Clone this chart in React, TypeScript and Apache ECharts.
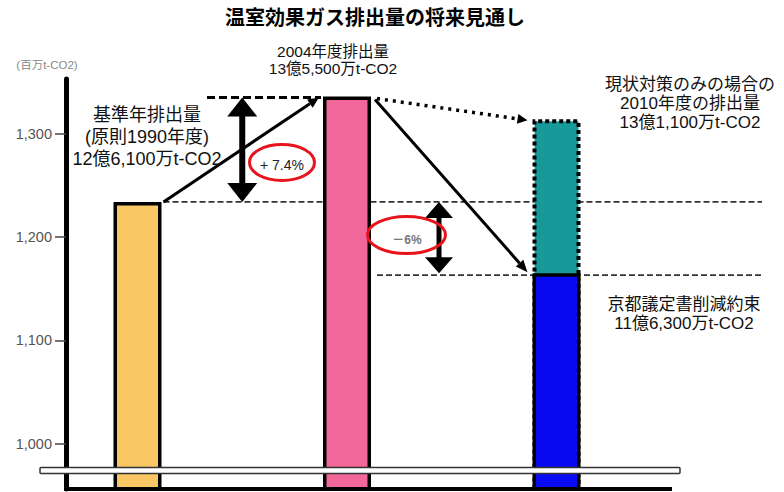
import { useEffect, useRef } from 'react';
import * as echarts from 'echarts';

// ---- data ----
const categories = ['基準年', '2004年度', '2010年度'];
const emissionValues = [1234, 1336, 1165]; // base year, 2004 actual, Kyoto commitment
const currentMeasuresValues: (number | string)[] = ['-', '-', 1314]; // 2010 with current measures only
const yTickValues = [1000, 1100, 1200, 1300];
const Y_MIN = 956;
const Y_MAX = 1353;

const titleText = '温室効果ガス排出量の将来見通し';
const unitText = '(百万t-CO2)';
const baseLabel = '基準年排出量\n(原則1990年度)\n12億6,100万t-CO2';
const label2004 = '2004年度排出量\n13億5,500万t-CO2';
const labelBau = '現状対策のみの場合の\n2010年度の排出量\n13億1,100万t-CO2';
const labelKyoto = '京都議定書削減約束\n11億6,300万t-CO2';
const increaseText = '+ 7.4%';
const decreaseText = '－6%';

const barColors = ['#f9c864', '#f2679a', '#0a0af2'];
const bauColor = '#17999a';
const F = "'Liberation Sans', 'Noto Sans CJK JP', sans-serif";

function head(x1: number, y1: number, x2: number, y2: number, len: number, half: number) {
  const dx = x2 - x1, dy = y2 - y1;
  const L = Math.hypot(dx, dy);
  const ux = dx / L, uy = dy / L;
  const bx = x2 - ux * len, by = y2 - uy * len;
  return {
    base: [bx, by],
    pts: [[x2, y2], [bx - uy * half, by + ux * half], [bx + uy * half, by - ux * half]],
  };
}

function arrowLine(x1: number, y1: number, x2: number, y2: number, width: number, dash: number[] | null, hl: number, hh: number) {
  const h = head(x1, y1, x2, y2, hl, hh);
  const els: any[] = [
    {
      type: 'line', z: 20,
      shape: { x1, y1, x2: h.base[0], y2: h.base[1] },
      style: { stroke: '#000', lineWidth: width, lineDash: dash || undefined },
    },
    { type: 'polygon', z: 20, shape: { points: h.pts }, style: { fill: '#000' } },
  ];
  return els;
}

function doubleArrow(x: number, yTop: number, yBot: number, shaft: number, hw: number, hh: number) {
  return [
    { type: 'rect', z: 20, shape: { x: x - shaft / 2, y: yTop + hh - 1, width: shaft, height: yBot - yTop - 2 * hh + 2 }, style: { fill: '#000' } },
    { type: 'polygon', z: 20, shape: { points: [[x, yTop], [x - hw, yTop + hh], [x + hw, yTop + hh]] }, style: { fill: '#000' } },
    { type: 'polygon', z: 20, shape: { points: [[x, yBot], [x - hw, yBot - hh], [x + hw, yBot - hh]] }, style: { fill: '#000' } },
  ];
}

function text(x: number, y: number, t: string, size: number, lh: number, extra: any = {}) {
  return {
    type: 'text', x, y, z: 30,
    style: {
      text: t, fill: '#111', fontSize: size, fontFamily: F, lineHeight: lh,
      align: 'center', verticalAlign: 'middle', ...extra,
    },
  };
}

export default function App() {
  const ref = useRef<HTMLDivElement>(null);

  useEffect(() => {
    if (!ref.current) return;
    const chart = echarts.init(ref.current, null, { renderer: 'svg' });
    chart.setOption({
      animation: false,
      backgroundColor: '#fff',
      title: {
        text: titleText, left: 225, top: 6, padding: 0,
        textStyle: { fontSize: 20, fontWeight: 'bold', fontFamily: "'Noto Sans CJK JP', sans-serif", color: '#000' },
      },
      grid: { left: 32.75, right: 122.75, top: 79, bottom: 3, containLabel: false, outerBoundsMode: 'none' },
      xAxis: {
        type: 'category', data: categories,
        axisLine: { show: false }, axisTick: { show: false }, axisLabel: { show: false }, splitLine: { show: false },
      },
      yAxis: {
        type: 'value', min: Y_MIN, max: Y_MAX, offset: -33.25,
        axisLine: { show: true, lineStyle: { color: '#000', width: 5 } },
        axisTick: { show: true, length: 11, customValues: yTickValues, lineStyle: { color: '#444', width: 1.5 } },
        axisLabel: {
          customValues: yTickValues, margin: 14, fontSize: 14.5, color: '#555', fontFamily: F,
          formatter: (v: number) => v.toLocaleString('en-US'),
        },
        splitLine: { show: false },
      },
      series: [
        {
          type: 'bar', name: '現状対策のみの場合', data: currentMeasuresValues, barWidth: 48, barGap: '-100%', silent: true,
          itemStyle: { color: bauColor, borderColor: '#000', borderWidth: 4, borderType: [4, 3] },
        },
        {
          type: 'bar', name: '排出量', barWidth: 48, barGap: '-100%', silent: true,
          data: emissionValues.map((v, i) => ({ value: v, itemStyle: { color: barColors[i] } })),
          itemStyle: { borderColor: '#000', borderWidth: 3.5 },
        },
      ],
    });

    const px = (c: number, v: number) => chart.convertToPixel({ seriesIndex: 1 }, [c, v]) as number[];
    const HW = 26;
    const [xY, yY] = px(0, emissionValues[0]);
    const [xP, yP] = px(1, emissionValues[1]);
    const [xK, yB] = px(2, emissionValues[2]);
    const [, yT] = px(2, currentMeasuresValues[2] as number);
    const [, yBottom] = px(0, Y_MIN);
    const axisX = 66;

    const elements: any[] = [
      // reference lines (behind bars)
      { type: 'line', z: 1, shape: { x1: xY + HW, y1: yY, x2: 762, y2: yY }, style: { stroke: '#333', lineWidth: 1.6, lineDash: [6, 3] } },
      { type: 'line', z: 1, shape: { x1: xP + HW + 4, y1: yB + 2, x2: 762, y2: yB + 2 }, style: { stroke: '#333', lineWidth: 1.6, lineDash: [6, 3] } },
      { type: 'line', z: 1, shape: { x1: 207, y1: yP + 1, x2: xP - HW, y2: yP + 1 }, style: { stroke: '#000', lineWidth: 3, lineDash: [8, 4] } },
      // arrows
      ...arrowLine(xY + HW, yY, xP - HW - 2, yP + 1, 3, null, 11, 5),
      ...arrowLine(xP + HW + 4, yP + 2, xK - HW - 3, yT + 1, 3.5, [3, 5], 10, 5),
      ...arrowLine(xP + HW + 2, yP + 3, xK - HW - 3, yB - 1, 3, null, 12, 5),
      ...doubleArrow((xY + xP) / 2, yP + 1, yY, 6, 15, 19),
      ...doubleArrow(439, yY, yB, 5, 14, 16),
      // red ellipses
      { type: 'ellipse', z: 25, shape: { cx: 282, cy: 162.5, rx: 32.5, ry: 18 }, style: { fill: 'none', stroke: '#e8141c', lineWidth: 3 } },
      { type: 'ellipse', z: 25, shape: { cx: 406.5, cy: 235, rx: 39, ry: 18.5 }, style: { fill: 'none', stroke: '#e8141c', lineWidth: 3 } },
      // axis break strip and bottom line
      { type: 'line', z: 20, shape: { x1: axisX - 2, y1: yBottom, x2: 672, y2: yBottom }, style: { stroke: '#000', lineWidth: 4 } },
      { type: 'rect', z: 22, shape: { x: 40, y: 467.5, width: 640, height: 6, r: 1 }, style: { fill: '#fff', stroke: '#333', lineWidth: 1.5 } },
      // texts
      text(47, 65, unitText, 11.5, 13, { fill: '#888' }),
      text(147, 137, baseLabel, 18, 22),
      text(333, 60, label2004, 15.5, 16.5),
      text(690, 103, labelBau, 17, 19),
      text(684, 313.5, labelKyoto, 17, 19),
      text(282, 165, increaseText, 14, 16, { fill: '#222' }),
      text(407, 240, decreaseText, 12, 14, { fill: '#777', fontWeight: 'bold' }),
    ];
    chart.setOption({ graphic: { elements } });

    return () => chart.dispose();
  }, []);

  return (
    <div
      ref={ref}
      style={{ position: 'fixed', left: 0, top: 0, width: '784px', height: '492px', background: '#fff' }}
    />
  );
}
